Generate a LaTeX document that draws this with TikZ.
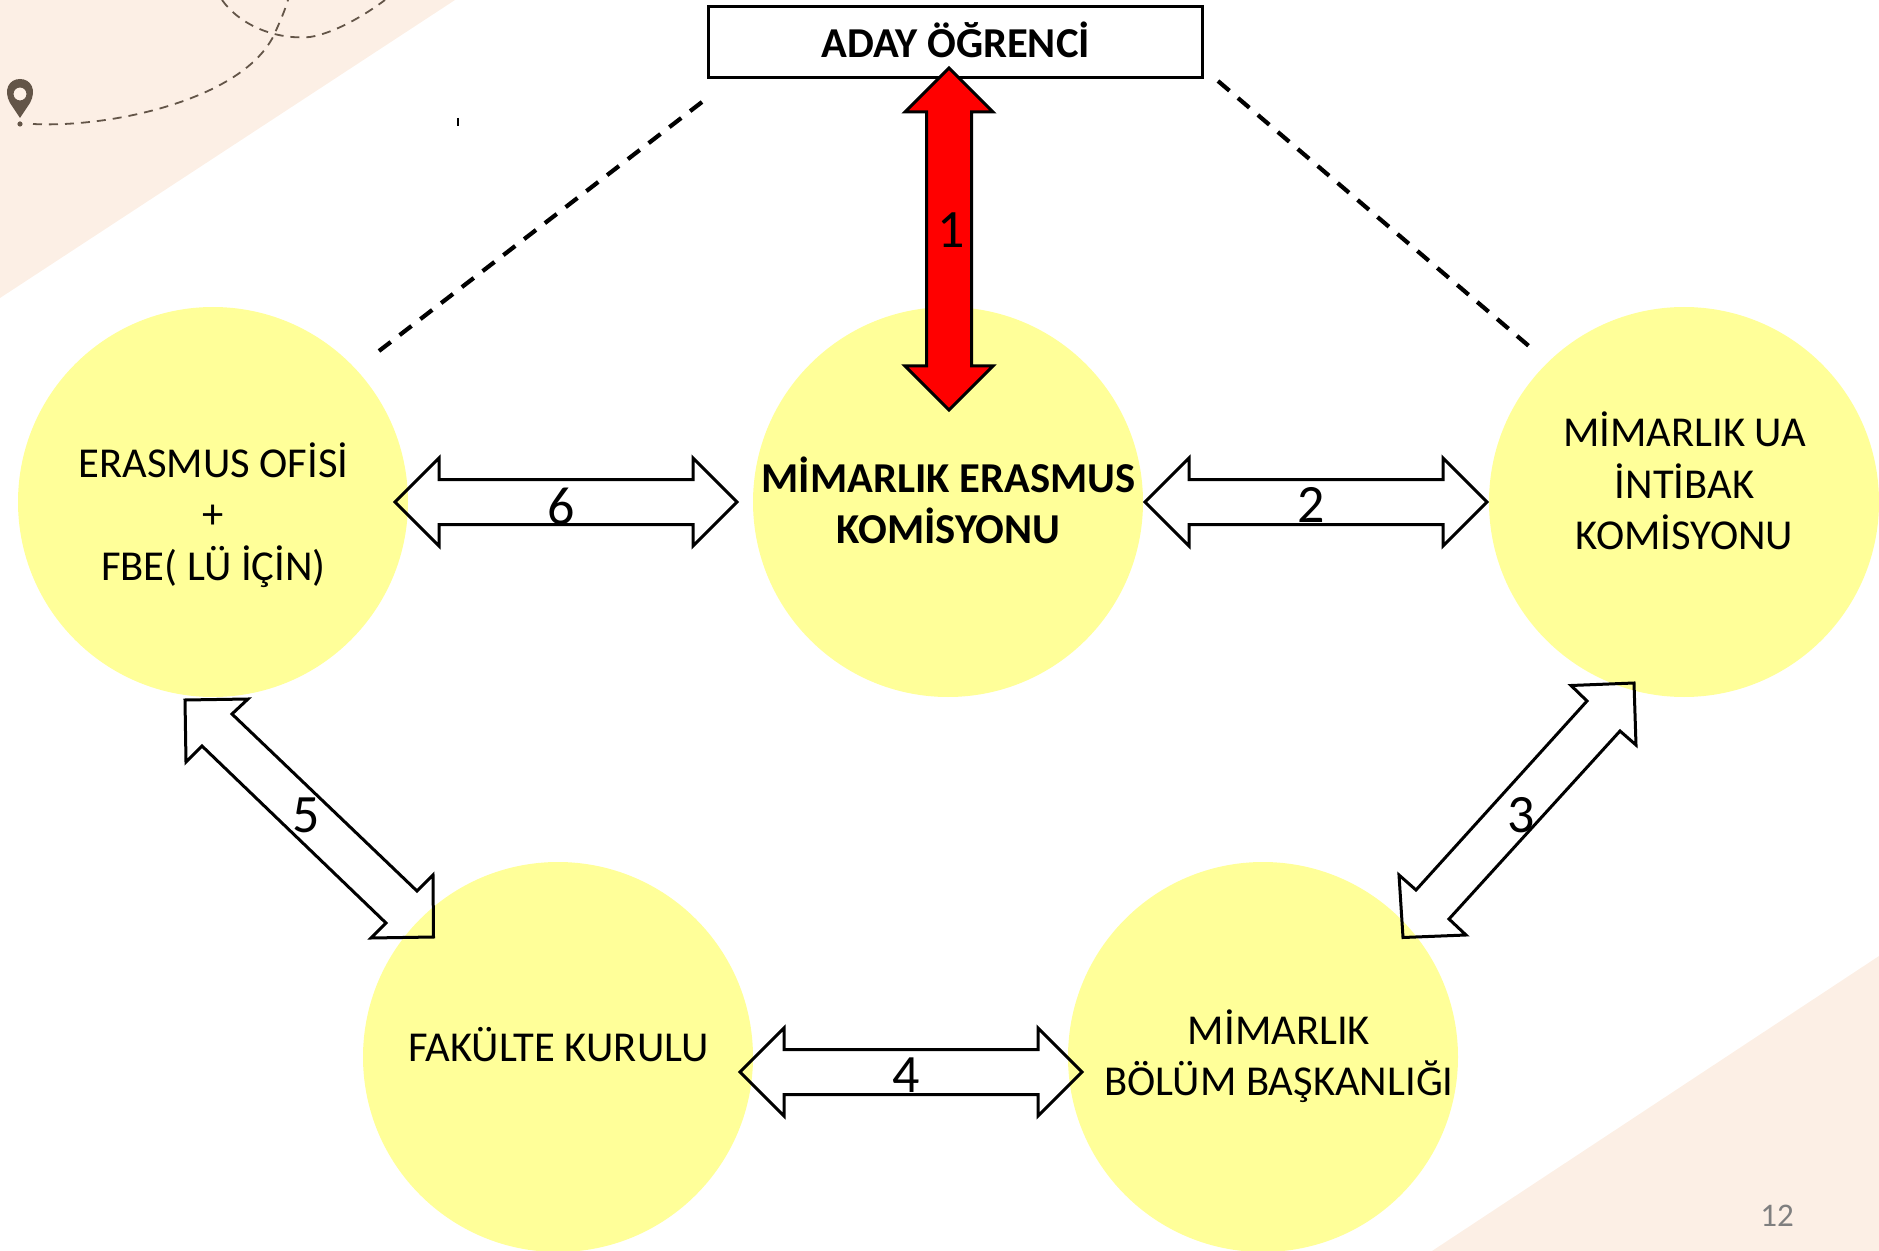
\documentclass[tikz,border=0pt]{standalone}
\usepackage{fontspec}
\setmainfont{Carlito}
\definecolor{bgpeach}{HTML}{FCEFE5}
\definecolor{circ}{HTML}{FFFF99}
\definecolor{trail}{HTML}{635548}
\definecolor{pagenum}{HTML}{7F7F7F}
\tikzset{
  x=0.5pt,y=-0.5pt,
  circlenode/.style={circle,fill=circ,minimum size=195pt,inner sep=0pt,align=center},
  blockarrow/.style={draw=black,line width=1.5pt,line join=miter},
  dashline/.style={draw=black,line width=2.1pt,dash pattern=on 7.5pt off 5.6pt},
  trailline/.style={draw=trail,line width=0.9pt,dash pattern=on 4.5pt off 3.5pt},
  num/.style={font=\fontsize{27}{32}\selectfont,inner sep=0pt},
  lbl/.style={font=\fontsize{21.3}{25.7}\selectfont,inner sep=0pt,align=center},
}
\newcommand{\harrow}[2]{%
  \draw[blockarrow] (#1+2,#2) -- ++(44,-44) -- ++(0,21.5) -- ++(254,0) -- ++(0,-21.5) -- ++(44,44) -- ++(-44,44) -- ++(0,-21.5) -- ++(-254,0) -- ++(0,21.5) -- cycle;}
\begin{document}
\begin{tikzpicture}
\useasboundingbox (0,0) rectangle (1879,1251);
\fill[bgpeach] (0,0) -- (455,0) -- (0,298) -- cycle;
\fill[bgpeach] (1879,956) -- (1879,1251) -- (1432,1251) -- cycle;
% trail
\draw[trailline] (33,124) .. controls (110,128) and (240,100) .. (273,37) .. controls (280,22) and (285,10) .. (288,0);
\draw[trailline] (222,0) .. controls (240,25) and (275,40) .. (310,37) .. controls (335,33) and (365,15) .. (385,0);
% pin
\fill[trail,even odd rule] (20,118) -- (10,103) .. controls (3,90) and (9,79) .. (20,79) .. controls (31,79) and (37,90) .. (30,103) -- cycle (20,94) circle[radius=6.5];
\fill[trail] (20,124) circle[radius=2.6];
\draw[black,line width=0.9pt] (458,118) -- (458,126);
% circles
\node[circlenode] (era) at (213,502) {};
\node[circlenode] (kom) at (948,502) {};
\node[circlenode] (uab) at (1684,502) {};
\node[circlenode] (fak) at (558,1057) {};
\node[circlenode] (bol) at (1263,1057) {};
% circle texts
\node[lbl] (t1) at (213.5,515) {ERASMUS OFİSİ\\+\\FBE( LÜ İÇİN)};
\node[lbl,font=\fontsize{21.3}{25.7}\bfseries\selectfont] (t2) at (948.5,500.5) {MİMARLIK ERASMUS\\KOMİSYONU};
\node[lbl] (t3) at (1684.5,481) {MİMARLIK UA\\İNTİBAK\\KOMİSYONU};
\node[lbl] (t4) at (558.5,1045) {FAKÜLTE KURULU};
\node[lbl] (t5) at (1279,1056) {MİMARLIK\\BÖLÜM BAŞKANLIĞI};
% top box
\node[draw=black,line width=1.3pt,fill=white,minimum width=247pt,minimum height=35.5pt,inner sep=0pt,font=\fontsize{21.3}{25}\bfseries\selectfont] (aday) at (955.7,42) {\raisebox{2.5pt}{ADAY ÖĞRENCİ}};
% dashed links
\coordinate (dl1) at (702,102);
\coordinate (dl2) at (379,351);
\coordinate (dr1) at (1218,81);
\coordinate (dr2) at (1530,347);
\draw[dashline] (dl1) -- (dl2);
\draw[dashline] (dr1) -- (dr2);
% red arrow
\draw[blockarrow,fill=red] (949,68) -- ++(44,44) -- ++(-21.5,0) -- ++(0,254) -- ++(21.5,0) -- ++(-44,44) -- ++(-44,-44) -- ++(21.5,0) -- ++(0,-254) -- ++(-21.5,0) -- cycle;
% block arrows
\harrow{393}{502}
\harrow{1143}{502}
\harrow{738}{1072}
\draw[blockarrow] (185,700) -- (248,699) -- (232,714) -- (417,891) -- (433,875) -- (433.5,937) -- (371,938) -- (386,923) -- (202,746) -- (186,762) -- cycle;
\draw[blockarrow] (1634,683) -- (1636,745) -- (1620,731) -- (1449,919) -- (1466,935) -- (1403,937.5) -- (1399,875) -- (1416,890) -- (1587,701) -- (1571,685.5) -- cycle;
% numbers
\node[num] (n1) at (951,230) {1};
\node[num] (n2) at (1311,505) {2};
\node[num] (n3) at (1521,815) {3};
\node[num] (n4) at (906,1075) {4};
\node[num] (n5) at (306,815) {5};
\node[num] (n6) at (561,506) {6};
\node[font=\fontsize{16.5}{18}\selectfont,text=pagenum,inner sep=0pt] (pg) at (1777,1216) {12};
\end{tikzpicture}
\end{document}
